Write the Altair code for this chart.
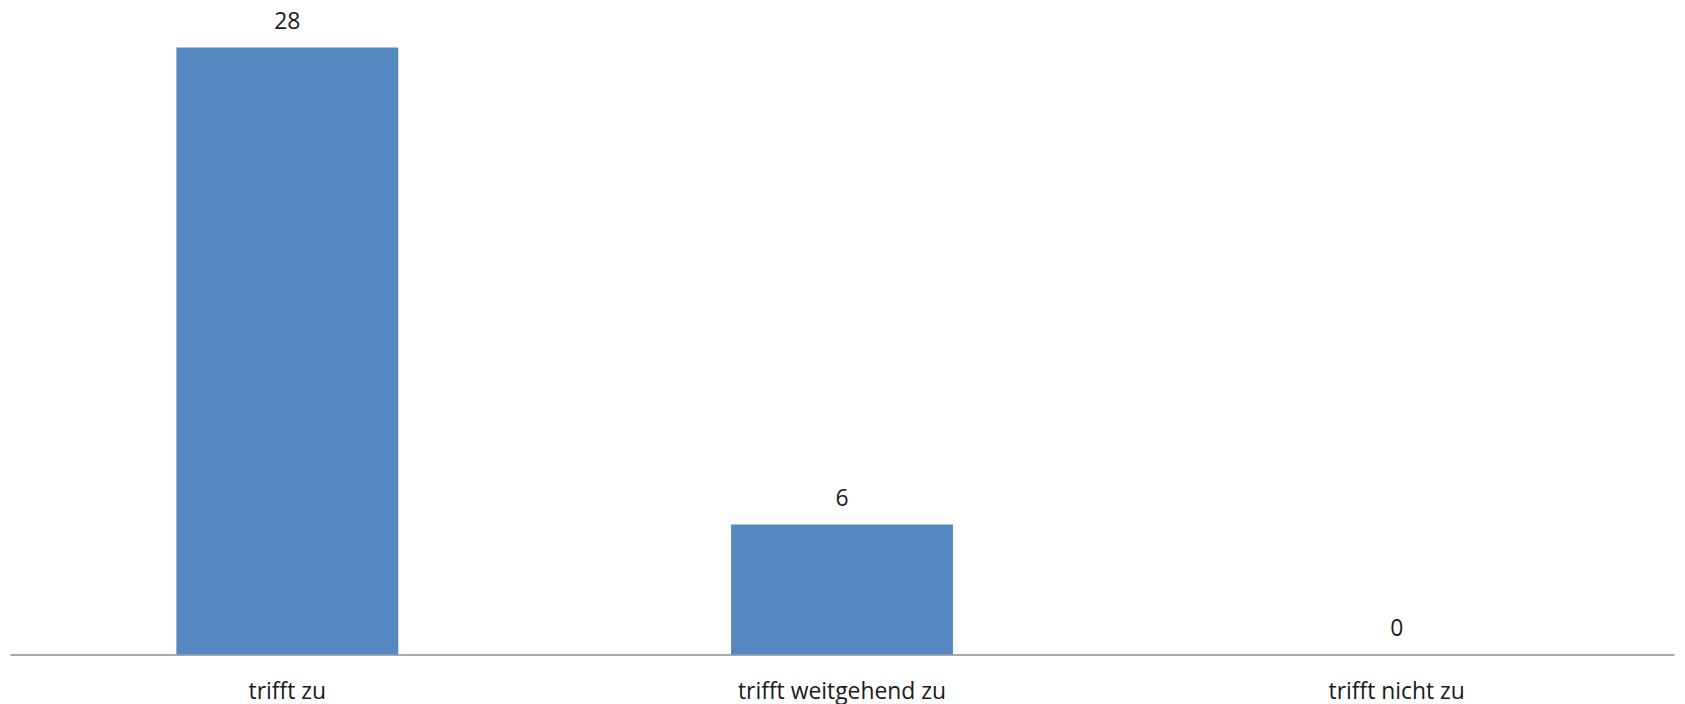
import altair as alt
import pandas as pd

categories = ["trifft zu", "trifft weitgehend zu", "trifft nicht zu"]
values = [28, 6, 0]

df = pd.DataFrame({"cat": categories, "val": values})

FONT = "Open Sans"
FS = 23

x = alt.X(
    "cat:N",
    sort=categories,
    title=None,
    scale=alt.Scale(paddingInner=0.6, paddingOuter=0.3),
    axis=alt.Axis(
        labelAngle=0,
        ticks=False,
        domainColor="#8c8c8c",
        domainWidth=1.5,
        labelFont=FONT,
        labelFontSize=FS,
        labelColor="#1a1a1a",
        labelBaseline="alphabetic",
        labelPadding=44,
        labelLimit=0,
        grid=False,
    ),
)
y = alt.Y(
    "val:Q",
    title=None,
    scale=alt.Scale(domain=[0, 28], nice=False, zero=True),
    axis=None,
)

base = alt.Chart(df).encode(x=x, y=y)

bars = base.mark_bar(color="#5588c0")
labels = base.mark_text(
    dy=-19, baseline="alphabetic", font=FONT, fontSize=FS, color="#1a1a1a"
).encode(text="val:Q")

chart = (
    (bars + labels)
    .properties(
        width=1672,
        height=610,
        autosize=alt.AutoSizeParams(type="none"),
        padding={"left": 2, "top": 38, "right": 3, "bottom": 60},
        view=alt.ViewBackground(stroke=None, strokeWidth=0),
    )
    .configure_view(strokeWidth=0, stroke=None)
    .configure(background="white")
)

chart.save("out.html", embed_options={"renderer": "svg", "actions": False})
